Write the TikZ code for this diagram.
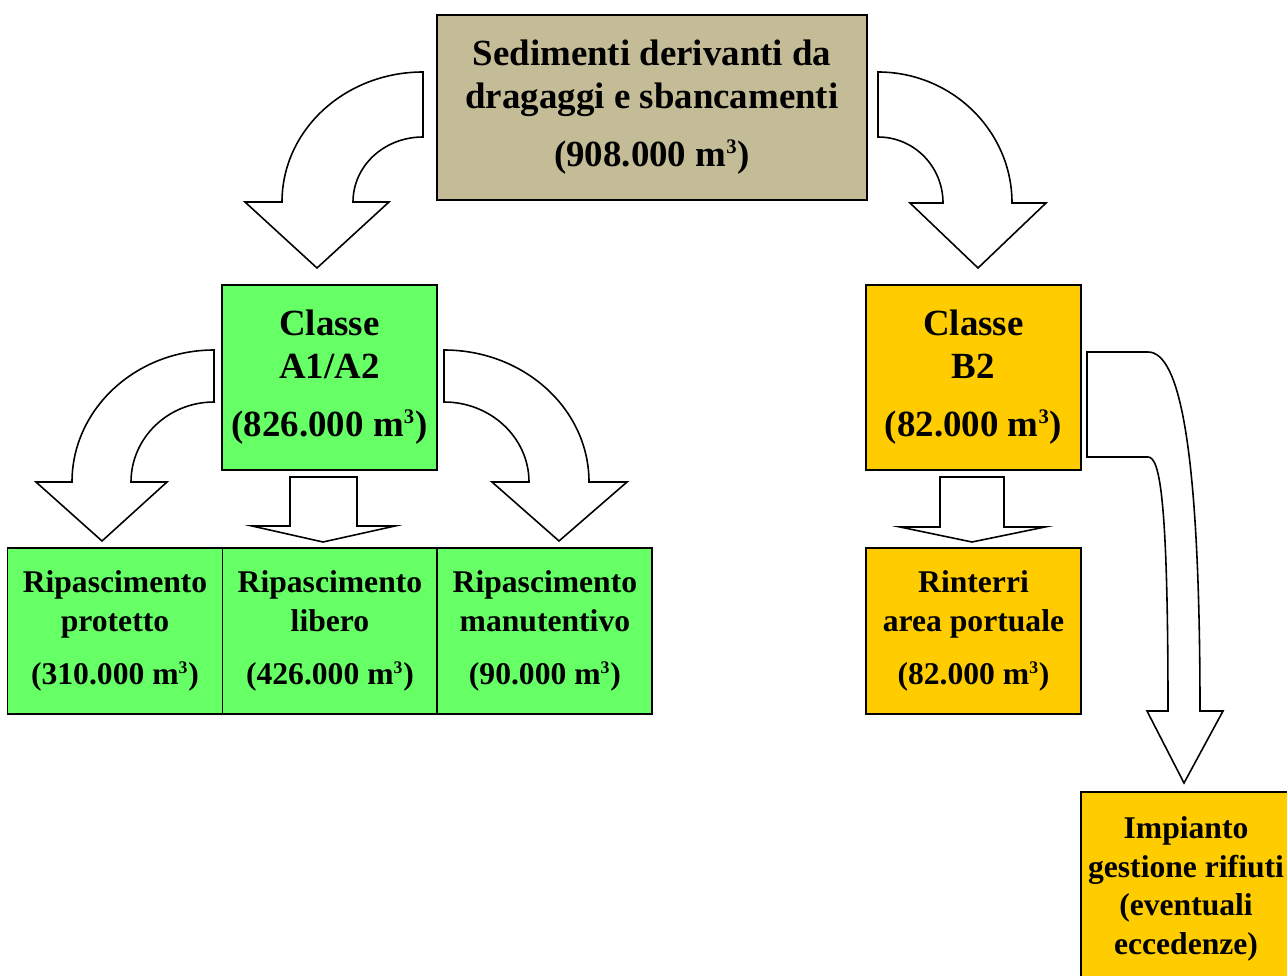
\documentclass[tikz,border=0pt]{standalone}
\usepackage{fontspec}
\setmainfont{Liberation Serif}
\usetikzlibrary{positioning}
\definecolor{sedtan}{HTML}{C4BC96}
\definecolor{classgreen}{HTML}{66FF66}
\definecolor{classyellow}{HTML}{FFCC00}
\newcommand{\mcub}{m\textsuperscript{\scalebox{0.8}{3}}}

\begin{document}
\begin{tikzpicture}[
    x=0.02cm, y=-0.02cm,
    box/.style={rectangle, draw=black, fill=#1, line width=1.1pt, outer sep=0pt,
                inner sep=0pt, minimum width=4.3cm, minimum height=3.7cm,
                align=center, font=\bfseries\fontsize{21}{24.5}\selectfont},
    box/.default=classgreen,
    smallbox/.style={box=#1, minimum height=3.32cm,
                font=\bfseries\fontsize{18}{22}\selectfont},
    smallbox/.default=classgreen,
    blockarr/.style={draw=black, fill=white, line width=0.9pt, line join=miter}
]
\useasboundingbox (0,0) rectangle (1287,976);
\clip (0,0) rectangle (1287,976);

\node[box=sedtan, minimum width=8.6cm] (sed) at (652,107.5)
    {Sedimenti derivanti da\\dragaggi e sbancamenti\\[0.3cm](908.000 \mcub)};
\node[box] (a12) at (329.5,377.5) {Classe\\A1/A2\\[0.3cm](826.000 \mcub)};
\node[box=classyellow] (b2) at (973.5,377.5) {Classe\\B2\\[0.3cm](82.000 \mcub)};

\node[smallbox] (prot) at (115,631) {Ripascimento\\protetto\\[0.28cm](310.000 \mcub)};
\node[smallbox, right=0pt of prot] (lib) {Ripascimento\\libero\\[0.28cm](426.000 \mcub)};
\node[smallbox, right=0pt of lib] (man) {Ripascimento\\manutentivo\\[0.28cm](90.000 \mcub)};
\node[smallbox=classyellow] (rint) at (973.5,631) {Rinterri\\area portuale\\[0.28cm](82.000 \mcub)};
\node[smallbox=classyellow, minimum width=4.2cm, minimum height=3.88cm] (imp) at (1186,889)
    {Impianto\\gestione rifiuti\\(eventuali\\eccedenze)};

% bent block arrows from the top box
\draw[blockarr] (423,72) .. controls (345,72) and (282,130) .. (282,202) -- (245,202)
    -- (317,268) -- (389,202) -- (353,202) .. controls (353,166) and (384,137) .. (423,137) -- cycle;
\draw[blockarr] (878,72) .. controls (952,72) and (1012,131) .. (1012,203) -- (1046,203)
    -- (978,268) -- (910,203) -- (943,203) .. controls (943,166.5) and (914,137) .. (878,137) -- cycle;

% block arrows from Classe A1/A2
\draw[blockarr] (214,350) .. controls (136,350) and (72,409) .. (72,482) -- (36,482)
    -- (102,541) -- (167,482) -- (131,482) .. controls (131,438) and (168,402) .. (214,402) -- cycle;
\draw[blockarr] (444,350) .. controls (524,350) and (589,409) .. (589,482) -- (627,482)
    -- (559,541) -- (492,482) -- (529,482) .. controls (529,438) and (491,402) .. (444,402) -- cycle;
\draw[blockarr] (290,477) -- (357,477) -- (357,526) -- (395,526) -- (323,542)
    -- (252,526) -- (290,526) -- cycle;

% block arrows from Classe B2
\draw[blockarr] (940,477) -- (1004,477) -- (1004,527) -- (1045,527) -- (972,542)
    -- (900,527) -- (940,527) -- cycle;
\draw[blockarr] (1087,352) -- (1148,352) .. controls (1180,352) and (1200,450) .. (1200,711)
    -- (1223,711) -- (1184,783) -- (1147,711) -- (1168,711)
    .. controls (1168,500) and (1160,457) .. (1148,457) -- (1087,457) -- cycle;
\end{tikzpicture}
\end{document}
